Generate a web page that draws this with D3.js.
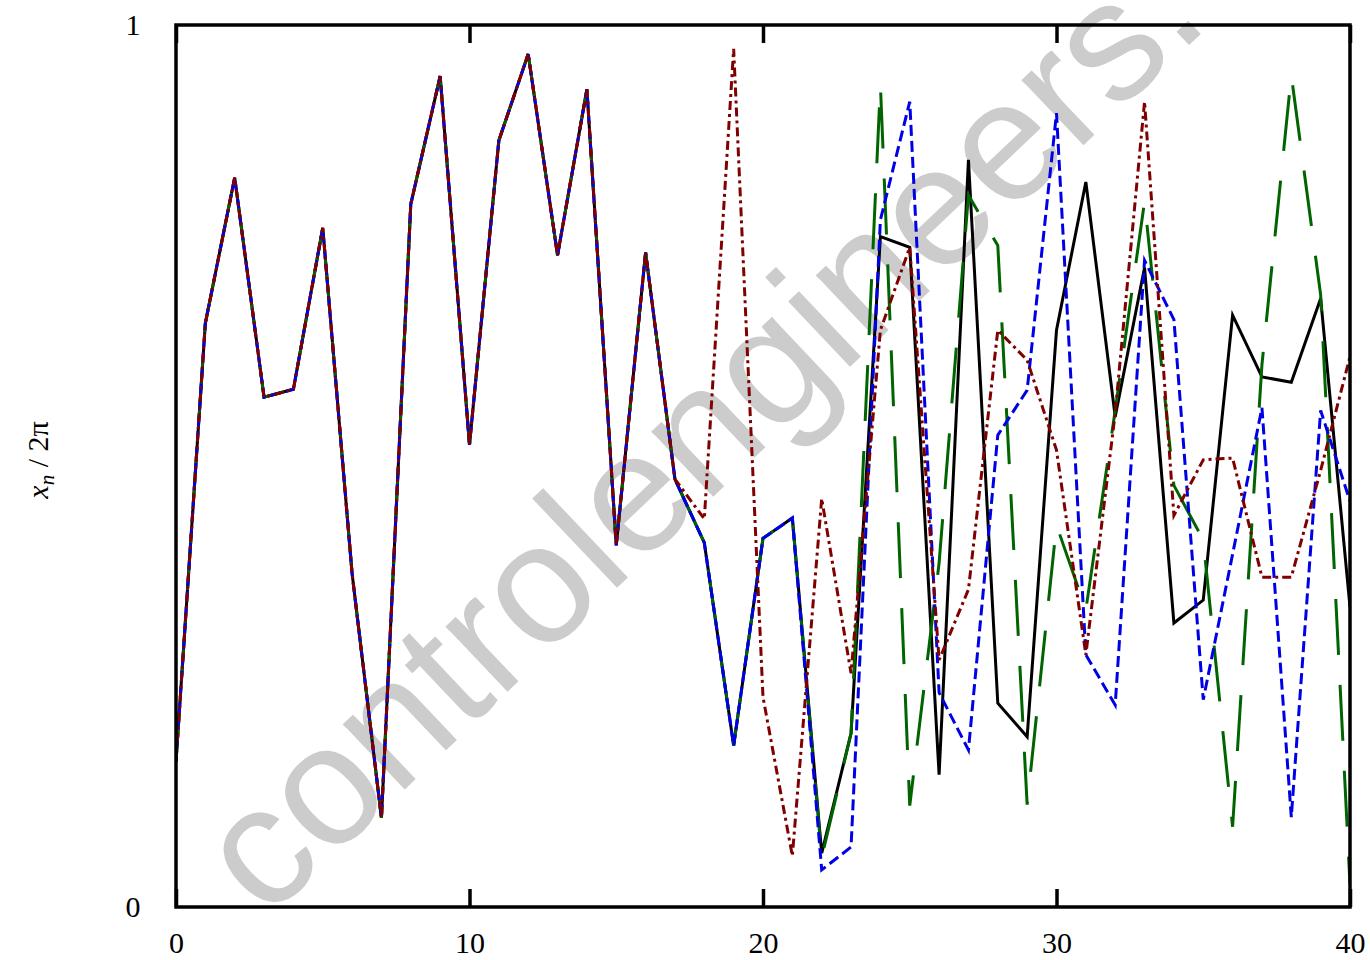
<!DOCTYPE html>
<html>
<head>
<meta charset="utf-8">
<script src="https://cdn.jsdelivr.net/npm/d3@7"></script>
<style>
  html, body { margin: 0; padding: 0; background: #fff; }
  svg { display: block; }
</style>
</head>
<body>
<svg id="chart" width="1370" height="960"></svg>
<script>
// ---- data (x_n / 2π for n = 0..40) ----
const steps = d3.range(0, 41);
const xTickValues = [0, 10, 20, 30, 40];
const xTickLabels = ["0", "10", "20", "30", "40"];
const yTickValues = [0, 1];
const yTickLabels = ["0", "1"];

const seriesBlack = [0.165,0.662,0.827,0.578,0.587,0.770,0.378,0.101,0.797,0.942,0.524,0.869,0.967,0.739,0.927,0.410,0.742,0.485,
  0.413,0.183,0.418,0.441,0.061,0.197,0.760,0.748,0.150,0.847,0.231,0.193,0.654,0.822,0.556,0.725,0.322,0.348,0.671,0.601,0.595,0.690,0.340];
const seriesBlue = [0.165,0.662,0.827,0.578,0.587,0.770,0.378,0.101,0.797,0.942,0.524,0.869,0.967,0.739,0.927,0.410,0.742,0.485,
  0.413,0.183,0.418,0.441,0.042,0.068,0.779,0.913,0.243,0.178,0.535,0.586,0.900,0.286,0.229,0.733,0.666,0.235,0.400,0.566,0.102,0.563,0.460];
const seriesGreen = [0.165,0.662,0.827,0.578,0.587,0.770,0.378,0.101,0.797,0.942,0.524,0.869,0.967,0.739,0.927,0.410,0.742,0.485,
  0.413,0.183,0.418,0.441,0.056,0.197,0.932,0.115,0.390,0.807,0.750,0.116,0.433,0.337,0.563,0.800,0.478,0.416,0.091,0.615,0.943,0.694,0.025];
const seriesRed = [0.165,0.662,0.827,0.578,0.587,0.770,0.378,0.101,0.797,0.942,0.524,0.869,0.967,0.739,0.927,0.410,0.742,0.485,
  0.440,0.973,0.238,0.058,0.463,0.265,0.654,0.748,0.280,0.360,0.654,0.620,0.518,0.286,0.560,0.913,0.444,0.507,0.509,0.374,0.374,0.495,0.624];

const watermarkText = "controlengineers.";

// ---- layout ----
const svg = d3.select("#chart");
const mLeft = 176, mRight = 1350, mTop = 25, mBottom = 907;
const x = d3.scaleLinear().domain([0, 40]).range([mLeft, mRight]);
const y = d3.scaleLinear().domain([0, 1]).range([mBottom, mTop]);

// watermark (behind everything)
svg.append("text")
  .attr("transform", "translate(266,921) rotate(-43.5)")
  .attr("font-family", "'Liberation Sans', Arial, sans-serif")
  .attr("font-size", 170)
  .attr("fill", "#cccccc")
  .text(watermarkText);

svg.append("clipPath").attr("id", "plotclip")
  .append("rect").attr("x", mLeft).attr("y", mTop).attr("width", mRight - mLeft).attr("height", mBottom - mTop);

const line = d3.line().x((d, i) => x(steps[i])).y(d => y(d));

const styles = [
  { data: seriesBlack, color: "#000000", dash: null, w: 3 },
  { data: seriesGreen, color: "#006400", dash: "56,30", w: 3 },
  { data: seriesBlue,  color: "#0000e6", dash: "11,5", w: 3 },
  { data: seriesRed,   color: "#800000", dash: "9,4,3,4", w: 3 }
];

const g = svg.append("g").attr("clip-path", "url(#plotclip)");
styles.forEach(s => {
  g.append("path")
    .datum(s.data)
    .attr("d", line)
    .attr("fill", "none")
    .attr("stroke", s.color)
    .attr("stroke-width", s.w)
    .attr("stroke-linejoin", "miter")
    .attr("stroke-dasharray", s.dash);
});

// axes
const fontFam = "'Liberation Serif', 'Times New Roman', serif";
const xAxisB = d3.axisBottom(x).tickValues(xTickValues)
  .tickFormat((d, i) => xTickLabels[i]).tickSizeInner(-18).tickSizeOuter(0).tickPadding(30);
const gxb = svg.append("g").attr("transform", `translate(0,${mBottom})`).call(xAxisB);
gxb.select(".domain").remove();
gxb.selectAll("line").attr("stroke", "#000").attr("stroke-width", 3.5);
gxb.selectAll("text").attr("font-family", fontFam).attr("font-size", 30).attr("fill", "#000").attr("dy", "0.32em").attr("y", 36);

const xAxisT = d3.axisTop(x).tickValues(xTickValues).tickFormat("").tickSizeInner(-18).tickSizeOuter(0);
const gxt = svg.append("g").attr("transform", `translate(0,${mTop})`).call(xAxisT);
gxt.select(".domain").remove();
gxt.selectAll("line").attr("stroke", "#000").attr("stroke-width", 3.5);

const yAxis = d3.axisLeft(y).tickValues(yTickValues)
  .tickFormat((d, i) => yTickLabels[i]).tickSize(0).tickPadding(36);
const gy = svg.append("g").attr("transform", `translate(${mLeft},0)`).call(yAxis);
gy.select(".domain").remove();
gy.selectAll("text").attr("font-family", fontFam).attr("font-size", 30).attr("fill", "#000")
  .attr("text-anchor", "middle").attr("x", -43);

// frame
svg.append("rect")
  .attr("x", mLeft).attr("y", mTop).attr("width", mRight - mLeft).attr("height", mBottom - mTop)
  .attr("fill", "none").attr("stroke", "#000").attr("stroke-width", 3.5);

// y label
const yl = svg.append("text")
  .attr("transform", "translate(48,460) rotate(-90)")
  .attr("text-anchor", "middle")
  .attr("font-family", fontFam)
  .attr("font-size", 30)
  .attr("fill", "#000");
yl.append("tspan").attr("font-style", "italic").text("x");
yl.append("tspan").attr("font-style", "italic").attr("font-size", 21).attr("dy", 6).text("n");
yl.append("tspan").attr("dy", -6).text(" / 2π");
</script>
</body>
</html>
